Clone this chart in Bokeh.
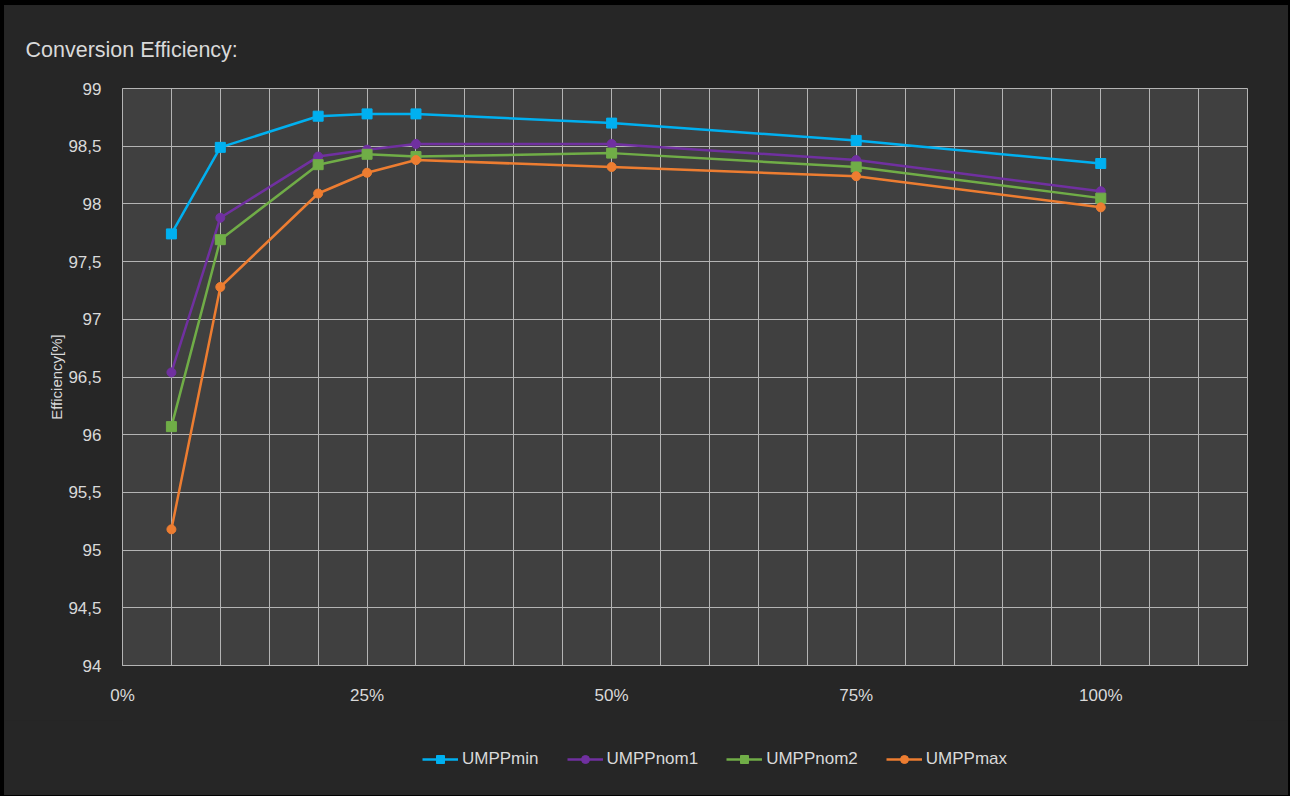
from bokeh.plotting import figure
from bokeh.models import FixedTicker, Legend, LegendItem, Column
from bokeh.embed import file_html
from bokeh.resources import INLINE

# Load share (fraction of nominal power)
load = [0.05, 0.10, 0.20, 0.25, 0.30, 0.50, 0.75, 1.00]

# Conversion efficiency [%] per MPP voltage level
umpp_min = [97.74, 98.49, 98.76, 98.78, 98.78, 98.70, 98.55, 98.35]
umpp_nom1 = [96.54, 97.88, 98.41, 98.47, 98.52, 98.52, 98.38, 98.11]
umpp_nom2 = [96.07, 97.69, 98.34, 98.43, 98.41, 98.44, 98.32, 98.05]
umpp_max = [95.18, 97.28, 98.09, 98.27, 98.38, 98.32, 98.24, 97.97]

series_names = ["UMPPmin", "UMPPnom1", "UMPPnom2", "UMPPmax"]
series_values = [umpp_min, umpp_nom1, umpp_nom2, umpp_max]
series_colors = ["#00b0f0", "#7030a0", "#70ad47", "#ed7d31"]
series_markers = ["square", "circle", "square", "circle"]

y_ticks = [94, 94.5, 95, 95.5, 96, 96.5, 97, 97.5, 98, 98.5, 99]
x_ticks = [i * 0.05 for i in range(24)]
x_tick_labels = {0.0: "0%", 0.25: "25%", 0.5: "50%", 0.75: "75%", 1.0: "100%"}

FONT = "Liberation Sans"
TEXT = "#d9d9d9"
GRID = "#b4b4b4"
BG = "#262626"

FRAME_W, FRAME_H = 1125, 577


def marker_size(mk):
    return 10 if mk == "square" else 9


p = figure(frame_width=FRAME_W, frame_height=FRAME_H,
           x_range=(0, 1.15), y_range=(94, 99),
           output_backend="svg", toolbar_location=None,
           background_fill_color="#404040", border_fill_color=BG,
           min_border_left=118, min_border_right=41, min_border_top=83,
           min_border_bottom=55, margin=(5, 2, 0, 4),
           styles={"background-color": BG})
p.outline_line_color = GRID
p.outline_line_width = 1

p.title.text = "Conversion Efficiency:"
p.title.align = "left"
p.title.vertical_align = "top"
p.title.offset = -97
p.title.standoff = 50
p.title.text_color = TEXT
p.title.text_font = FONT
p.title.text_font_style = "normal"
p.title.text_font_size = "21.5px"

# grid
p.xgrid.ticker = FixedTicker(ticks=x_ticks)
p.ygrid.ticker = FixedTicker(ticks=y_ticks)
for g in (p.xgrid, p.ygrid):
    g.grid_line_color = GRID
    g.grid_line_width = 1
    g.grid_line_alpha = 1.0

# x axis: gridlines every 5 %, labels every 25 %
xa = p.xaxis[0]
xa.ticker = FixedTicker(ticks=x_ticks)
xa.major_label_overrides = {t: x_tick_labels.get(round(t, 2), "") for t in x_ticks}
xa.axis_line_color = GRID
xa.major_tick_line_color = None
xa.minor_tick_line_color = None
xa.major_label_text_color = TEXT
xa.major_label_text_font = FONT
xa.major_label_text_font_size = "17px"
xa.major_label_standoff = 14

# y axis with decimal commas
ya = p.yaxis[0]
ya.ticker = FixedTicker(ticks=y_ticks)
ya.major_label_overrides = {t: (f"{t:g}").replace(".", ",") for t in y_ticks}
ya.axis_line_color = GRID
ya.major_tick_line_color = None
ya.minor_tick_line_color = None
ya.major_label_text_color = TEXT
ya.major_label_text_font = FONT
ya.major_label_text_font_size = "17px"
ya.major_label_standoff = 15
ya.axis_label = "Efficiency[%]"
ya.axis_label_text_color = TEXT
ya.axis_label_text_font = FONT
ya.axis_label_text_font_style = "normal"
ya.axis_label_text_font_size = "15px"
ya.axis_label_standoff = 0

for vals, col, mk in zip(series_values, series_colors, series_markers):
    p.line(load, vals, line_color=col, line_width=2.5)
    p.scatter(load, vals, marker=mk, size=marker_size(mk),
              fill_color=col, line_color=col)

# legend strip underneath the chart; its frame lines up with the chart frame
lg = figure(frame_width=FRAME_W, frame_height=75, x_range=(0, 1), y_range=(0, 1),
            output_backend="svg", toolbar_location=None,
            background_fill_color=BG, border_fill_color=BG,
            min_border_left=118, min_border_right=41, min_border_top=0,
            min_border_bottom=0, margin=(0, 2, 1, 4),
            styles={"background-color": BG})
lg.axis.visible = False
lg.grid.visible = False
lg.outline_line_color = None

nan = float("nan")
items = []
for name, col, mk in zip(series_names, series_colors, series_markers):
    ln = lg.line(x=[nan], y=[nan], line_color=col, line_width=2.5)
    sc = lg.scatter(x=[nan], y=[nan], marker=mk, size=marker_size(mk) - 1,
                    fill_color=col, line_color=col)
    items.append(LegendItem(label=name, renderers=[ln, sc]))

legend = Legend(items=items, orientation="horizontal", location=(300, 26),
                background_fill_alpha=0, border_line_color=None,
                label_text_color=TEXT, label_text_font=FONT,
                label_text_font_size="17px", glyph_width=36, glyph_height=20,
                spacing=28, label_standoff=4, margin=0, padding=0)
lg.add_layout(legend)

layout = Column(children=[p, lg], width=1290, height=796, spacing=0,
                styles={"background-color": "#000000"})

open("out.html", "w").write(file_html(layout, INLINE))
